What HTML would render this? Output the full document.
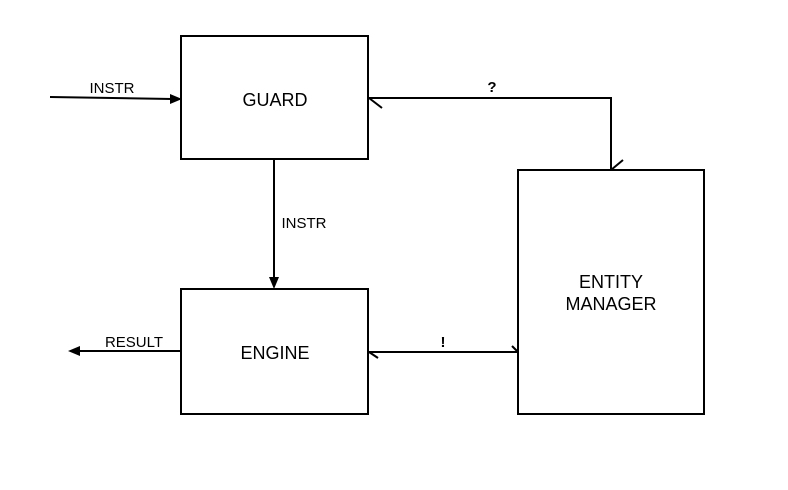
<!DOCTYPE html>
<html><head><style>body{margin:0;background:#fff}</style></head><body>
<svg width="788" height="485" xmlns="http://www.w3.org/2000/svg" font-family="Liberation Sans, sans-serif">
<g fill="none" stroke="#000" stroke-width="2">
<rect x="181" y="36" width="187" height="123"/>
<rect x="181" y="289" width="187" height="125"/>
<rect x="518" y="170" width="186" height="244"/>
<path d="M50 97 L172 99"/>
<path d="M274 159 V279"/>
<path d="M181 351 H78"/>
<path d="M369 98 H611 V170"/>
<path d="M369 98 L382 108"/>
<path d="M611 170 L623 160"/>
<path d="M369 352 H518"/>
<path d="M369 352 L378 358"/>
<path d="M518 352 L512 346"/>
</g>
<g fill="#000">
<polygon points="182,99 170,94 170,104"/>
<polygon points="274,289 269,277 279,277"/>
<polygon points="68,351 80,346 80,356"/>
</g>
<g font-size="18" text-anchor="middle">
<text x="275" y="106">GUARD</text>
<text x="275" y="359">ENGINE</text>
<text x="611" y="288">ENTITY</text>
<text x="611" y="310">MANAGER</text>
</g>
<g font-size="15" text-anchor="middle">
<text x="112" y="93">INSTR</text>
<text x="304" y="228">INSTR</text>
<text x="134" y="347">RESULT</text>
<text x="492" y="92" font-weight="bold">?</text>
<text x="443" y="347" font-weight="bold">!</text>
</g>
</svg>
</body></html>
